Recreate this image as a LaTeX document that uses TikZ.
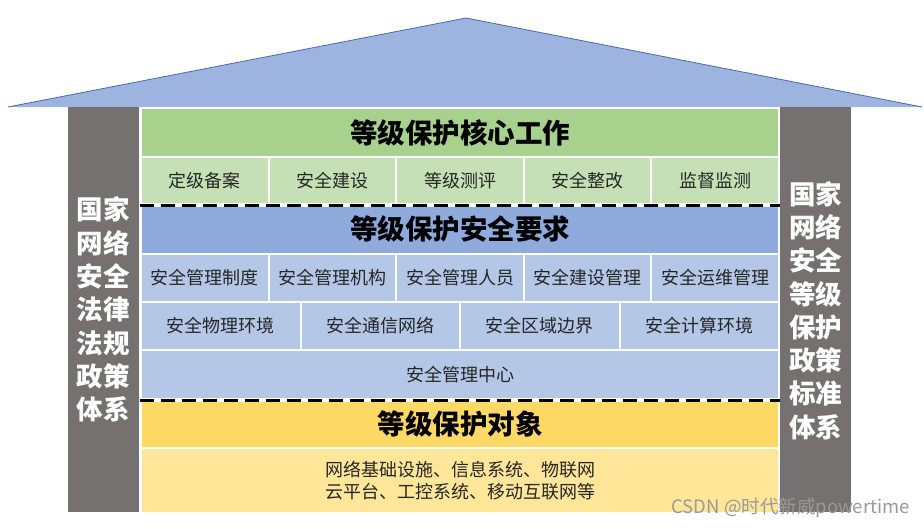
\documentclass[tikz,border=0pt]{standalone}
\usepackage{fontspec}
\setmainfont{Noto Sans CJK SC}
\begin{document}
\begin{tikzpicture}[x=1pt,y=-1pt,
  cellbox/.style={draw=white,line width=2pt,inner sep=0pt,anchor=north west,text=black!85,font=\fontsize{18}{20}\selectfont},
  titlebox/.style={cellbox,font=\fontsize{27.5}{30}\bfseries\selectfont,text=black},
  pillar/.style={fill=pillargrey,inner sep=0pt,anchor=north west,minimum width=71pt,minimum height=405pt},
  pillartext/.style={text=white,align=center,font=\fontsize{26.5}{33.3}\bfseries\selectfont,inner sep=0pt},
  sep/.style={draw=white,line width=4pt},
  sepdash/.style={draw=black,line width=3pt,dash pattern=on 14pt off 7pt}
]
\definecolor{pillargrey}{HTML}{767171}
\definecolor{roofblue}{HTML}{9DB4E0}
\definecolor{roofline}{HTML}{4A6BA8}
\definecolor{gdark}{HTML}{A9D18E}
\definecolor{glight}{HTML}{C5E0B4}
\definecolor{bdark}{HTML}{8FAADC}
\definecolor{blight}{HTML}{B4C7E7}
\definecolor{ydark}{HTML}{FFD966}
\definecolor{ylight}{HTML}{FFE699}
\useasboundingbox[fill=white] (0,0) rectangle (924,528);

% roof
\coordinate (rl) at (8,107);
\coordinate (ra) at (466,18);
\coordinate (rr) at (922,107);
\fill[roofblue] (rl) -- (ra) -- (rr) -- cycle;
\draw[roofline,line width=0.8pt] (rl) -- (ra) -- (rr);

% pillars
\node[pillar] (lp) at (68,107) {};
\node[pillar] (rp) at (780,107) {};
\node[pillartext] (lpt) at (103,309.5) {国家\\网络\\安全\\法律\\法规\\政策\\体系};
\node[pillartext] (rpt) at (815.5,310.5) {国家\\网络\\安全\\等级\\保护\\政策\\标准\\体系};

% green layer
\node[titlebox,fill=gdark,minimum width=638pt,minimum height=49pt] (gt) at (140,107) {等级保护核心工作};
\foreach \t [count=\i from 0] in {定级备案,安全建设,等级测评,安全整改,监督监测}{
  \node[cellbox,fill=glight,minimum width=127.6pt,minimum height=47pt] (g\i) at ({140+127.6*\i},156) {\t};
}

% blue layer
\node[titlebox,fill=bdark,minimum width=638pt,minimum height=49pt] (bt) at (140,204) {等级保护安全要求};
\foreach \t [count=\i from 0] in {安全管理制度,安全管理机构,安全管理人员,安全建设管理,安全运维管理}{
  \node[cellbox,fill=blight,minimum width=127.6pt,minimum height=48pt] (ba\i) at ({140+127.6*\i},253) {\t};
}
\foreach \t [count=\i from 0] in {安全物理环境,安全通信网络,安全区域边界,安全计算环境}{
  \node[cellbox,fill=blight,minimum width=159.5pt,minimum height=48pt] (bb\i) at ({140+159.5*\i},301) {\t};
}
\node[cellbox,fill=blight,minimum width=638pt,minimum height=49pt] (bc) at (140,349) {安全管理中心};

% yellow layer
\node[titlebox,fill=ydark,minimum width=638pt,minimum height=48pt] (yt) at (140,399) {等级保护对象};
\node[cellbox,fill=ylight,minimum width=638pt,minimum height=65pt,align=center,font=\fontsize{18}{22.5}\selectfont] (yc) at (140,447) {网络基础设施、信息系统、物联网\\云平台、工控系统、移动互联网等};

% dashed separators
\draw[sep] (g0.south west) -- (g4.south east);
\draw[sepdash] (g0.south west) -- (g4.south east);
\draw[sep] (bc.south west) -- (bc.south east);
\draw[sepdash] (bc.south west) -- (bc.south east);

% watermark
\node[anchor=east,text=black!40,font=\fontsize{18.5}{20}\selectfont,inner sep=0pt] (wm) at (910,508) {CSDN @时代新威powertime};
\end{tikzpicture}
\end{document}
